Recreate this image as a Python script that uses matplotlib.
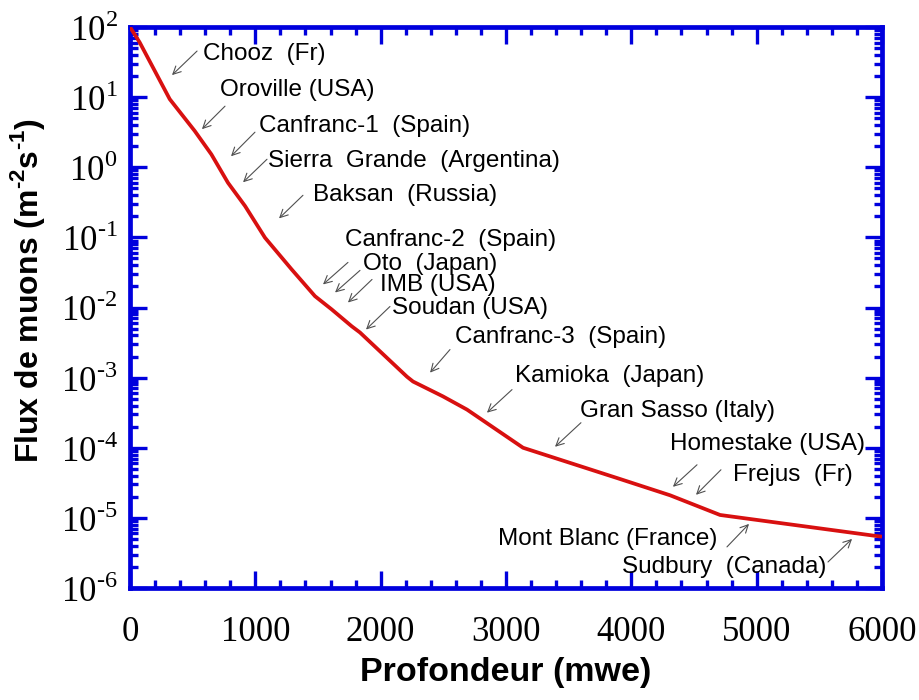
import numpy as np
import matplotlib
matplotlib.use("Agg")
import matplotlib.pyplot as plt
from matplotlib.ticker import LogLocator, MultipleLocator, FuncFormatter, NullFormatter

# ---------------- data ----------------
depth_mwe = [0, 77, 197, 317, 516, 649, 782, 918, 1077, 1290, 1476, 1609,
             1769, 1835, 2210, 2258, 2497, 2689, 3136, 3886, 4309, 4708,
             5960, 6000]
muon_flux = [100, 60.4, 23.8, 9.36, 3.30, 1.53, 0.60, 0.28, 0.099, 0.0349,
             0.0145, 0.0094, 0.0054, 0.0044, 1.03e-3, 8.8e-4, 5.4e-4, 3.5e-4,
             1.0e-4, 3.7e-5, 2.1e-5, 1.1e-5, 5.5e-6, 5.4e-6]

x_ticks = [0, 1000, 2000, 3000, 4000, 5000, 6000]
x_tick_labels = ["0", "1000", "2000", "3000", "4000", "5000", "6000"]

site_labels = ["Chooz  (Fr)", "Oroville (USA)", "Canfranc-1  (Spain)",
               "Sierra  Grande  (Argentina)", "Baksan  (Russia)",
               "Canfranc-2  (Spain)", "Oto  (Japan)", "IMB (USA)",
               "Soudan (USA)", "Canfranc-3  (Spain)", "Kamioka  (Japan)",
               "Gran Sasso (Italy)", "Homestake (USA)", "Frejus  (Fr)",
               "Mont Blanc (France)", "Sudbury  (Canada)"]

# label layout: text anchor (depth, log10 flux), alignment, arrow tail & head
text_pos = [(582, 1.617), (718, 1.103), (1029, 0.59), (1101, 0.09),
            (1460, -0.40), (1715, -1.04), (1859, -1.383), (1995, -1.683),
            (2090, -2.01), (2593, -2.426), (3072, -2.97), (3590, -3.48),
            (4309, -3.95), (4811, -4.383), (4684, -5.30), (5553, -5.70)]
text_ha = ["left"] * 14 + ["right", "right"]
arrow_tail = [(535, 1.657), (758, 0.871), (997, 0.5), (1093, 0.114),
              (1380, -0.4), (1739, -1.357), (1835, -1.471), (1931, -1.6),
              (2074, -1.986), (2553, -2.6), (3048, -3.171), (3598, -3.643),
              (4524, -4.243), (4715, -4.314), (4763, -5.414), (5569, -5.629)]
arrow_head = [(335, 1.314), (574, 0.543), (806, 0.157), (902, -0.214),
              (1189, -0.729), (1540, -1.671), (1636, -1.786), (1739, -1.929),
              (1883, -2.314), (2394, -2.929), (2848, -3.5), (3391, -3.986),
              (4332, -4.557), (4516, -4.671), (4939, -5.086), (5761, -5.3)]

# ---------------- style ----------------
BLUE = "#0000dd"
RED = "#d81010"
HY = "\u2010"
plt.rcParams["axes.unicode_minus"] = False
plt.rcParams["mathtext.fontset"] = "custom"
plt.rcParams["mathtext.rm"] = "Liberation Serif"
plt.rcParams["mathtext.bf"] = "Liberation Sans:bold"
plt.rcParams["mathtext.sf"] = "Liberation Sans"

lab_family, lab_size = ["Liberation Sans", "DejaVu Sans"], 17.5

fig = plt.figure(figsize=(9.19, 7.0), dpi=100)
ax = fig.add_axes([130 / 919, 1 - 588 / 700, 752 / 919, 561 / 700])

ax.plot(depth_mwe, muon_flux, color=RED, lw=2.7, solid_joinstyle="round",
        solid_capstyle="butt", zorder=3)

ax.set_yscale("log")
ax.set_xlim(0, 6000)
ax.set_ylim(1e-6, 1e2)

for s in ax.spines.values():
    s.set_color(BLUE)
    s.set_linewidth(3.4)

ax.xaxis.set_minor_locator(MultipleLocator(200))
ax.set_xticks(x_ticks)
ax.set_xticklabels(x_tick_labels, family="Liberation Serif", fontsize=25)
ax.yaxis.set_major_locator(LogLocator(base=10, numticks=20))
ax.yaxis.set_minor_locator(LogLocator(base=10, subs=np.arange(2, 10), numticks=20))


def ytick_fmt(v, pos):
    e = str(int(round(np.log10(v)))).replace("-", HY)
    return r"$\mathrm{10}^{\mathrm{%s}}$" % e


ax.yaxis.set_major_formatter(FuncFormatter(ytick_fmt))
ax.yaxis.set_minor_formatter(NullFormatter())

ax.tick_params(which="both", direction="in", top=True, right=True,
               color=BLUE, width=2.4)
ax.tick_params(which="major", length=12.5)
ax.tick_params(which="minor", length=6)
ax.tick_params(axis="x", which="major", pad=20, labelsize=25)
ax.tick_params(axis="y", which="major", pad=9, labelsize=25)

ax.set_xlabel("Profondeur (mwe)", family="Liberation Sans", fontweight="bold",
              fontsize=24.5, labelpad=6)
ax.set_ylabel(r"Flux de muons (m$^{\mathbf{%s2}}$s$^{\mathbf{%s1}}$)" % (HY, HY),
              family="Liberation Sans", fontweight="bold", fontsize=23)
ax.yaxis.set_label_coords(-0.111, 0.53)

for lab, tp, ha, tail, head in zip(site_labels, text_pos, text_ha, arrow_tail, arrow_head):
    ax.text(tp[0], 10 ** tp[1], lab, ha=ha, va="center", family=lab_family,
            fontsize=lab_size, color="black", zorder=4)
    ax.annotate("", xy=(head[0], 10 ** head[1]), xytext=(tail[0], 10 ** tail[1]),
                arrowprops=dict(arrowstyle="->", color="#505050", lw=0.8,
                                shrinkA=0, shrinkB=0, mutation_scale=14))

fig.savefig("out.png", dpi=100)
